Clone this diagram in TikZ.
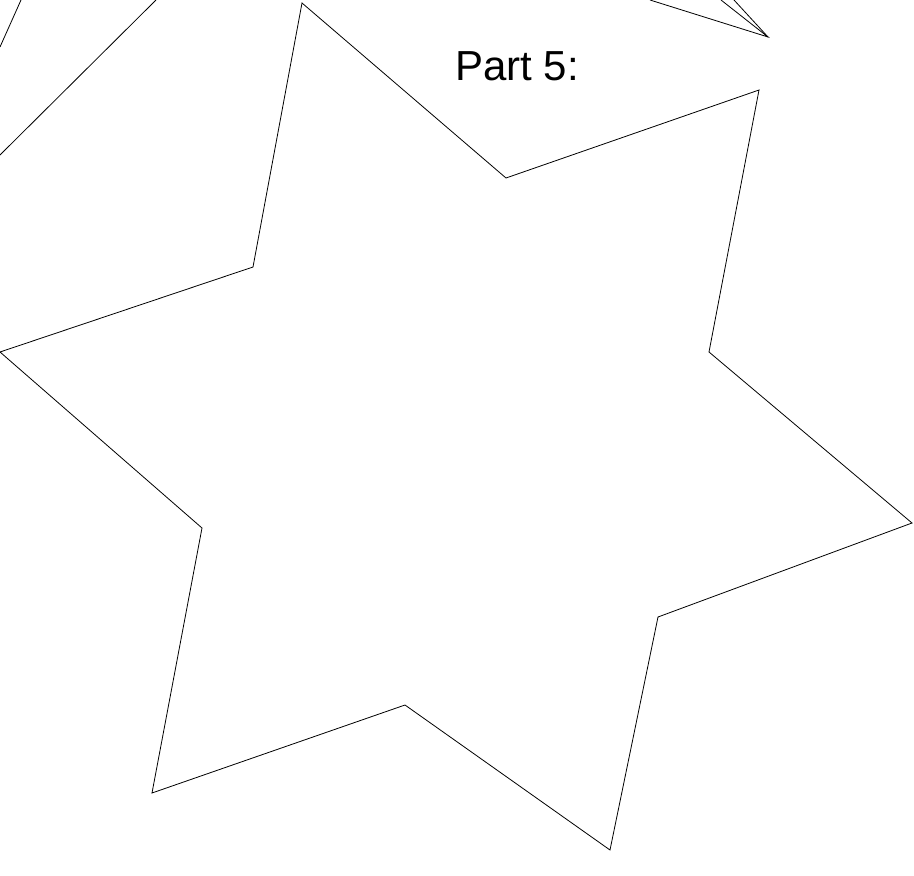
\documentclass[tikz,border=0pt]{standalone}
\usepackage{fontspec}
\setmainfont{Liberation Sans}
\begin{document}
\begin{tikzpicture}[x=1pt,y=-1pt,line width=0.8pt,
  edge/.style={draw=black,line join=miter}]
\useasboundingbox (0,0) rectangle (914,876);
\coordinate (o1) at (302,3);
\coordinate (i1) at (506,178);
\coordinate (o2) at (759,90);
\coordinate (i2) at (709,352);
\coordinate (o3) at (912,523);
\coordinate (i3) at (658,617);
\coordinate (o4) at (610,850);
\coordinate (i4) at (405,705);
\coordinate (o5) at (152,793);
\coordinate (i5) at (202,528);
\coordinate (o6) at (0,352);
\coordinate (i6) at (253,267);
\draw[edge] (o1)--(i1)--(o2)--(i2)--(o3)--(i3)--(o4)--(i4)--(o5)--(i5)--(o6)--(i6)--cycle;
\coordinate (a1) at (21,0);
\coordinate (a2) at (0,47);
\coordinate (b1) at (156,0);
\coordinate (b2) at (0,155);
\draw[edge] (a1)--(a2);
\draw[edge] (b1)--(b2);
\coordinate (t0) at (768,37);
\coordinate (t1) at (650,0);
\coordinate (t2) at (721,0);
\coordinate (t3) at (734,0);
\draw[edge] (t1)--(t0)--(t2);
\draw[edge] (t3)--(t0);
\node[font=\fontsize{42}{48}\selectfont,inner sep=0pt] (title) at (517,66) {Part 5:};
\end{tikzpicture}
\end{document}
